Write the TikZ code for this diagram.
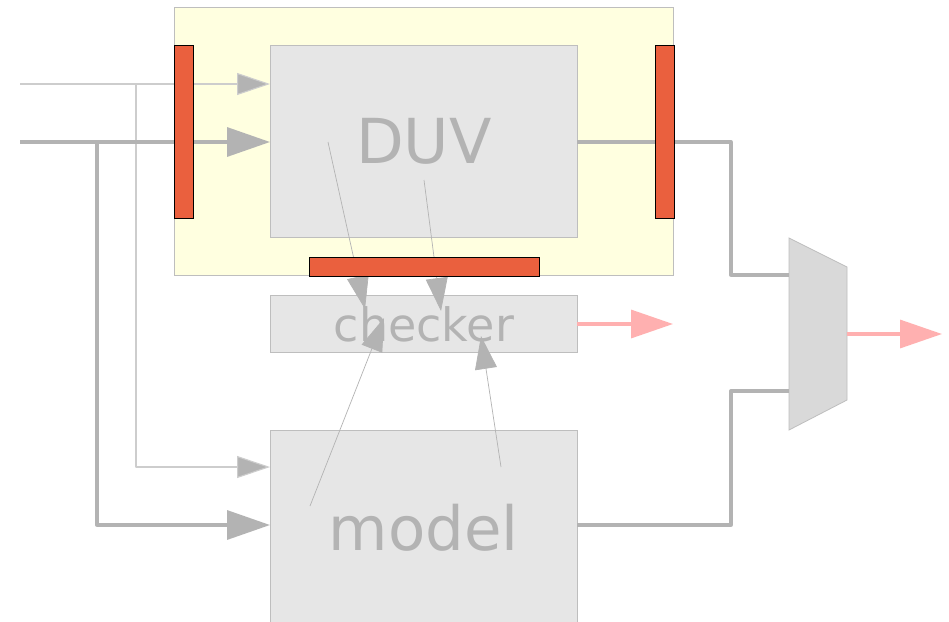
\documentclass[tikz,border=0pt]{standalone}
\usepackage{fontspec}
\setmainfont{DejaVu Sans}
\usetikzlibrary{arrows.meta}
\definecolor{boxfill}{HTML}{E6E6E6}
\definecolor{boxline}{HTML}{BEBEBE}
\definecolor{txt}{HTML}{B3B3B3}
\definecolor{wire}{HTML}{B3B3B3}
\definecolor{thinwire}{HTML}{CDCDCD}
\definecolor{yel}{HTML}{FFFFE0}
\definecolor{barred}{HTML}{EA603E}
\definecolor{pinkw}{HTML}{FFB0B0}
\definecolor{muxfill}{HTML}{D9D9D9}
\tikzset{
  blk/.style={draw=boxline, fill=boxfill, line width=0.9pt, text=txt, inner sep=0pt, anchor=north west},
  barbox/.style={draw=black, fill=barred, line width=0.8pt, inner sep=0pt, anchor=north west},
  thickw/.style={draw=wire, line width=3.3pt, line join=round},
  thinw/.style={draw=thinwire, line width=1.1pt, line join=round},
  diagw/.style={draw=wire, line width=0.7pt},
  pinkarrow/.style={draw=pinkw, line width=3.3pt, -{Triangle[length=42pt,width=28pt,fill=pinkw]}},
  bighead/.style={-{Triangle[length=43pt,width=29pt,fill=wire]}},
  smallhead/.style={-{Triangle[length=33pt,width=22pt,fill=wire]}},
}
\begin{document}
\begin{tikzpicture}[x=1pt,y=-1pt]
\useasboundingbox (0,0) rectangle (949,621);
\fill[white] (0,0) rectangle (949,621);
\begin{scope}
\clip (0,0) rectangle (949,621);
% yellow container
\node[draw=boxline, fill=yel, line width=0.8pt, inner sep=0pt, anchor=north west,
      minimum width=499pt, minimum height=268pt] (wrap) at (174,7) {};
% blocks
\node[blk, minimum width=307pt, minimum height=192pt, font=\fontsize{62}{62}\selectfont] (duv) at (270,45) {DUV};
\node[blk, minimum width=307pt, minimum height=57pt, font=\fontsize{46}{46}\selectfont] (chk) at (270,295) {checker};
\node[blk, minimum width=307pt, minimum height=195pt, font=\fontsize{61}{61}\selectfont] (model) at (270,430) {model};
% mux
\draw[draw=boxline, fill=muxfill, line width=0.8pt] (789,238) -- (847,267) -- (847,400) -- (789,430) -- cycle;
\coordinate (muxinA) at (789,275);
\coordinate (muxinB) at (789,391);
\coordinate (muxout) at (847,334);
\coordinate (outR) at (942,334);
% input coordinates
\coordinate (inThin) at (20,84);
\coordinate (inThick) at (20,142);
\coordinate (brThin) at (136,84);
\coordinate (brThick) at (97,142);
\coordinate (mThin) at (270,467);
\coordinate (mThick) at (270,525);
% wires
\draw[thinw, smallhead] (inThin) -- (inThin -| duv.west);
\draw[thinw, smallhead] (brThin) |- (mThin);
\draw[thickw, bighead] (inThick) -- (inThick -| duv.west);
\draw[thickw, bighead] (brThick) |- (mThick);
\coordinate (duvout) at (577,142);
\coordinate (modout) at (577,525);
\draw[thickw] (duvout) -- (731,142) |- (muxinA);
\draw[thickw] (modout) -- (731,525) |- (muxinB);
\coordinate (chkout) at (577,324);
\coordinate (chkR) at (673,324);
\draw[pinkarrow] (chkout) -- (chkR);
\draw[pinkarrow] (muxout) -- (outR);
% diagonal connections
\coordinate (d1s) at (328,142);
\coordinate (d1e) at (365,309);
\coordinate (d2s) at (424,180);
\coordinate (d2e) at (441,311);
\coordinate (m1s) at (310,506);
\coordinate (m1e) at (384,318);
\coordinate (m2s) at (501,467);
\coordinate (m2e) at (481,336);
\draw[diagw, smallhead] (d1s) -- (d1e);
\draw[diagw, smallhead] (d2s) -- (d2e);
\draw[diagw, smallhead] (m1s) -- (m1e);
\draw[diagw, smallhead] (m2s) -- (m2e);
% bars
\node[barbox, minimum width=19pt, minimum height=173pt] (barL) at (174,45) {};
\node[barbox, minimum width=19pt, minimum height=173pt] (barR) at (655,45) {};
\node[barbox, minimum width=230pt, minimum height=19pt] (barB) at (309,257) {};
\end{scope}
\end{tikzpicture}
\end{document}
